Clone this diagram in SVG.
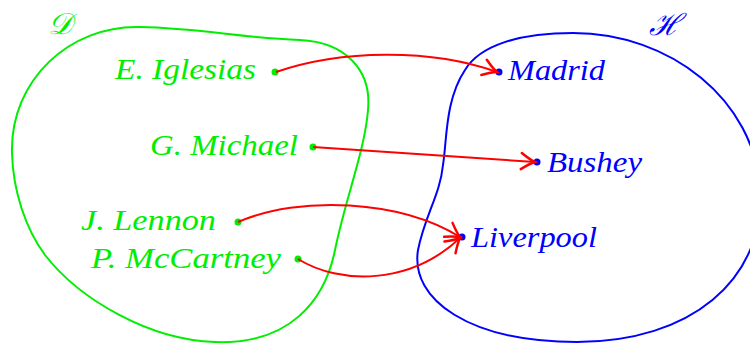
<svg xmlns="http://www.w3.org/2000/svg" width="750" height="343" viewBox="0 0 750 343">
<style>
text{font-family:"Liberation Serif","DejaVu Serif",serif;font-style:italic;font-size:30px}
.g{fill:#00ee00}
.b{fill:#0000ff}
.blob{fill:none;stroke-width:2}
.arr{fill:none;stroke:#ff0000;stroke-width:2;marker-end:url(#ah)}
</style>
<defs>
<marker id="ah" markerUnits="userSpaceOnUse" markerWidth="20" markerHeight="20" viewBox="-12 -8 14 16" refX="0" refY="0" orient="auto" overflow="visible">
<path d="M -11,-6.5 Q -4,-1.5 0,0 Q -4,1.5 -11,6.5" fill="none" stroke="#ff0000" stroke-width="2" stroke-linecap="round"/>
</marker>
</defs>
<g id="setD">
<path class="blob" stroke="#00ee00" d="M 12 153 C 10 80, 70 25, 140 27 C 200 28, 240 38, 300 40 C 345 42, 372 70, 368 110 C 365 150, 345 200, 335 250 C 325 300, 290 345, 215 342 C 150 340, 80 300, 45 255 C 25 228, 13 190, 12 153 Z"/>
<text class="g" x="48" y="34">𝒟</text>
</g>
<g id="setH">
<path class="blob" stroke="#0000ff" d="M 573 33 C 520 33, 480 45, 465 70 C 445 100, 447 140, 443 165 C 440 195, 425 215, 418 250 C 410 300, 470 342, 577 342 C 690 342, 765 280, 760 190 C 755 100, 670 33, 573 33 Z"/>
<text class="b" x="649" y="35">ℋ</text>
</g>
<g id="iglesias"><circle class="g" cx="275" cy="72" r="3.5"/><text class="g" x="256" y="79" text-anchor="end" textLength="141" lengthAdjust="spacingAndGlyphs">E. Iglesias</text></g>
<g id="michael"><circle class="g" cx="313" cy="147" r="3.5"/><text class="g" x="298" y="155" text-anchor="end" textLength="148" lengthAdjust="spacingAndGlyphs">G. Michael</text></g>
<g id="lennon"><circle class="g" cx="238" cy="222" r="3.5"/><text class="g" x="216" y="230" text-anchor="end" textLength="135" lengthAdjust="spacingAndGlyphs">J. Lennon</text></g>
<g id="mccartney"><circle class="g" cx="298" cy="259" r="3.5"/><text class="g" x="281" y="268" text-anchor="end" textLength="190" lengthAdjust="spacingAndGlyphs">P. McCartney</text></g>
<g id="madrid"><circle class="b" cx="499" cy="72" r="3.5"/><text class="b" x="508" y="80" textLength="97" lengthAdjust="spacingAndGlyphs">Madrid</text></g>
<g id="bushey"><circle class="b" cx="537" cy="162" r="3.5"/><text class="b" x="547" y="172" textLength="95" lengthAdjust="spacingAndGlyphs">Bushey</text></g>
<g id="liverpool"><circle class="b" cx="462" cy="237" r="3.5"/><text class="b" x="471" y="247" textLength="126" lengthAdjust="spacingAndGlyphs">Liverpool</text></g>
<g id="connectors">
<path class="arr" d="M 276 72 C 340 50, 430 48, 497 72"/>
<path class="arr" d="M 313 147 L 535 162"/>
<path class="arr" d="M 238 222 C 300 195, 400 200, 460 237"/>
<path class="arr" d="M 298 259 C 340 285, 410 285, 460 238"/>
</g>
</svg>
